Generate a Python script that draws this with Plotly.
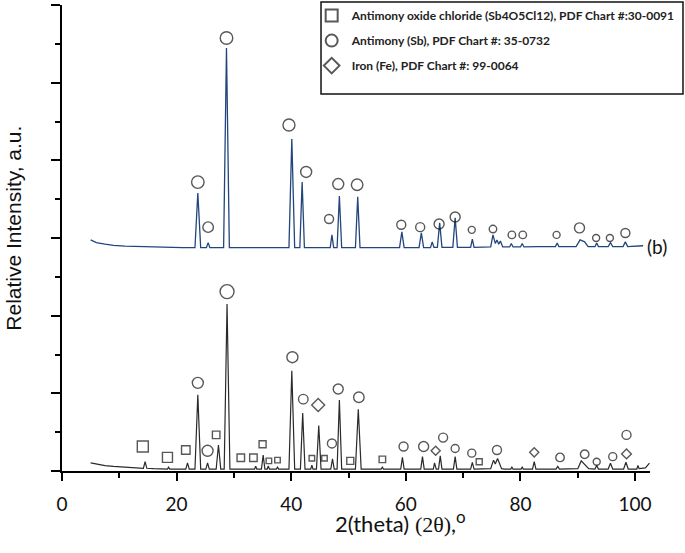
import plotly.graph_objects as go

# ---------------- data ----------------
# Sample (b): blue pattern, polyline vertices (2theta, relative intensity)
b_x = [5.0, 6.0, 7.5, 9, 11, 13, 15, 17, 19, 21, 23.2, 23.7, 24.2, 25.2, 25.5, 25.8,
       28.2, 28.7, 29.2, 32, 35, 38, 39.6, 40.1, 40.6, 41.5, 41.9, 42.3, 44, 46.8,
       47.1, 47.4, 48.0, 48.4, 48.8, 50, 51.2, 51.6, 52.0, 54, 56, 58.9, 59.3, 59.7,
       62.3, 62.7, 63.1, 64.3, 64.6, 64.9, 65.5, 65.9, 66.3, 68.2, 68.6, 69.0, 71.3,
       71.6, 71.9, 74.8, 75.2, 75.6, 75.9, 76.2, 76.5, 76.9, 78.1, 78.4, 78.7, 80.0,
       80.3, 80.6, 83, 86.1, 86.4, 86.7, 89.7, 90.4, 91.2, 91.8, 93.0, 93.3, 93.6,
       95.3, 95.7, 96.1, 97.9, 98.3, 98.7, 100, 101.4]
b_y = [5.95, 5.88, 5.84, 5.81, 5.79, 5.78, 5.77, 5.76, 5.75, 5.75, 5.75, 7.16, 5.75, 5.75, 5.88, 5.75,
       5.75, 10.89, 5.75, 5.75, 5.75, 5.75, 5.75, 8.55, 5.75, 5.75, 7.44, 5.75, 5.75, 5.75,
       6.08, 5.75, 5.75, 7.08, 5.75, 5.75, 5.75, 7.06, 5.75, 5.75, 5.75, 5.75, 6.16, 5.75,
       5.75, 6.13, 5.75, 5.75, 5.90, 5.76, 5.76, 6.39, 5.76, 5.76, 6.52, 5.76, 5.76,
       5.97, 5.76, 5.77, 6.08, 5.86, 5.95, 5.84, 5.92, 5.77, 5.77, 5.86, 5.77, 5.77,
       5.86, 5.77, 5.78, 5.78, 5.87, 5.78, 5.78, 5.95, 5.90, 5.78, 5.78, 5.87, 5.78,
       5.78, 5.88, 5.78, 5.78, 5.90, 5.78, 5.79, 5.80]

# Sample (a): black pattern, polyline vertices
a_x = [5.0, 6, 7.5, 9, 11, 13, 14.2, 14.5, 14.8, 16, 18.4, 18.6, 18.8, 21.6, 21.9, 22.2,
       23.2, 23.7, 24.2, 25.1, 25.4, 25.7, 26.9, 27.3, 27.7, 28.3, 28.8, 29.3, 31, 33.6,
       33.8, 34.0, 34.8, 35.1, 35.4, 35.8, 36.0, 36.2, 37.4, 37.6, 37.8, 39.6, 40.1,
       40.6, 41.6, 42.0, 42.4, 43.4, 43.6, 43.8, 44.4, 44.8, 45.2, 46.9, 47.2, 47.5,
       48.0, 48.4, 48.8, 51.2, 51.7, 52.2, 55.7, 55.9, 56.1, 59.1, 59.4, 59.7, 62.6,
       62.9, 63.2, 64.8, 65.0, 65.3, 65.7, 66.0, 66.3, 68.3, 68.6, 68.9, 71.3, 71.6,
       71.9, 74.8, 75.3, 75.6, 76.0, 76.4, 76.7, 77.2, 78.3, 78.5, 78.7, 80.1, 80.3,
       80.5, 82.1, 82.4, 82.7, 86.2, 86.5, 86.8, 90.0, 90.6, 91.3, 91.9, 93.0, 93.3,
       93.6, 95.3, 95.7, 96.1, 98.0, 98.4, 98.8, 100.3, 100.5, 100.7, 101.8, 102.5]
a_y = [0.21, 0.18, 0.14, 0.12, 0.10, 0.08, 0.07, 0.24, 0.07, 0.06, 0.05, 0.10, 0.05, 0.05, 0.21, 0.05,
       0.05, 1.96, 0.05, 0.05, 0.21, 0.05, 0.05, 0.67, 0.05, 0.05, 4.30, 0.05, 0.05, 0.05,
       0.12, 0.05, 0.05, 0.41, 0.05, 0.05, 0.13, 0.05, 0.05, 0.10, 0.05, 0.05, 2.58,
       0.05, 0.05, 1.49, 0.05, 0.05, 0.15, 0.05, 0.05, 1.17, 0.05, 0.05, 0.31, 0.05,
       0.05, 1.83, 0.05, 0.05, 1.59, 0.05, 0.05, 0.10, 0.05, 0.05, 0.35, 0.05, 0.05,
       0.37, 0.05, 0.05, 0.21, 0.05, 0.05, 0.39, 0.05, 0.05, 0.37, 0.05, 0.05, 0.22,
       0.05, 0.06, 0.28, 0.18, 0.32, 0.15, 0.06, 0.05, 0.05, 0.10, 0.05, 0.05, 0.10,
       0.05, 0.05, 0.24, 0.05, 0.05, 0.12, 0.05, 0.06, 0.26, 0.16, 0.06, 0.05, 0.14,
       0.05, 0.05, 0.20, 0.05, 0.05, 0.23, 0.05, 0.05, 0.14, 0.06, 0.08, 0.20]

# Phase markers: sample (a)
a_sq_x = [14.1, 18.4, 21.6, 26.9, 31.2, 33.4, 35.0, 36.1, 37.6, 43.6, 45.8, 50.3, 55.9, 72.8]
a_sq_y = [0.63, 0.35, 0.54, 0.93, 0.34, 0.34, 0.69, 0.26, 0.28, 0.33, 0.33, 0.26, 0.30, 0.24]
a_sq_s = [11, 10, 8.5, 7.5, 7.5, 7.5, 7, 5.5, 5.5, 5.5, 5.5, 7, 6.5, 6]

a_ci_x = [23.7, 25.4, 28.8, 40.2, 42.1, 47.1, 48.2, 51.8, 59.6, 63.1, 66.5, 68.6, 71.5,
          75.9, 86.9, 91.2, 93.3, 96.1, 98.5]
a_ci_y = [2.27, 0.52, 4.62, 2.93, 1.85, 0.71, 2.11, 1.90, 0.63, 0.63, 0.86, 0.58, 0.46,
          0.54, 0.35, 0.43, 0.24, 0.37, 0.93]
a_ci_s = [11, 11, 14, 11, 9.5, 9, 10, 10.5, 9, 10, 9, 8, 8, 9, 8.5, 8.5, 7, 8, 9]

a_di_x = [44.7, 65.2, 82.4, 98.5]
a_di_y = [1.70, 0.52, 0.48, 0.44]
a_di_s = [10, 7, 7, 7.5]

# Phase markers: sample (b)
b_ci_x = [23.7, 25.5, 28.7, 39.6, 42.6, 46.6, 48.2, 51.5, 59.2, 62.5, 65.8, 68.6, 71.5,
          75.2, 78.5, 80.4, 86.3, 90.3, 93.2, 95.6, 98.3]
b_ci_y = [7.44, 6.28, 11.15, 8.91, 7.70, 6.49, 7.39, 7.37, 6.34, 6.28, 6.36, 6.54, 6.21,
          6.23, 6.08, 6.08, 6.08, 6.26, 6.00, 6.00, 6.13]
b_ci_s = [12.5, 10.5, 12.5, 12, 11, 9, 11, 11.5, 9, 9, 10, 10, 7, 7.5, 7.5, 7.5, 7, 10, 7, 7, 9]

legend_names = ["Antimony oxide chloride (Sb4O5Cl12), PDF Chart #:30-0091",
                "Antimony (Sb), PDF Chart #: 35-0732",
                "Iron (Fe), PDF Chart #: 99-0064"]
sample_labels = ["(a)", "(b)"]
x_ticks = [0, 20, 40, 60, 80, 100]

# ---------------- figure ----------------
BLUE = "#22457c"
BLACK = "#2a2a2a"
MK = "#111111"

fig = go.Figure()
fig.add_trace(go.Scatter(x=b_x, y=b_y, mode="lines", line=dict(color=BLUE, width=1.3),
                         showlegend=False, hoverinfo="skip"))
fig.add_trace(go.Scatter(x=a_x, y=a_y, mode="lines", line=dict(color=BLACK, width=1.2),
                         showlegend=False, hoverinfo="skip"))

def mk(x, y, s, sym, name, show, group):
    return go.Scatter(x=x, y=y, mode="markers", name=name, showlegend=show,
                      legendgroup=group, cliponaxis=False,
                      marker=dict(symbol=sym, size=s, color=MK, line=dict(width=1.4, color=MK)))

fig.add_trace(mk(a_sq_x, a_sq_y, a_sq_s, "square-open", legend_names[0], True, "g1"))
fig.add_trace(mk(a_ci_x, a_ci_y, a_ci_s, "circle-open", legend_names[1], True, "g2"))
fig.add_trace(mk(a_di_x, a_di_y, a_di_s, "diamond-open", legend_names[2], True, "g3"))
fig.add_trace(mk(b_ci_x, b_ci_y, b_ci_s, "circle-open", legend_names[1], False, "g2"))

axis_common = dict(showline=True, linecolor="#000", linewidth=2, showgrid=False,
                   zeroline=False, ticks="outside", tickcolor="#000", tickwidth=1.5,
                   automargin=False)

fig.update_layout(
    width=685, height=553,
    margin=dict(l=62, r=35, t=5, b=82, autoexpand=False),
    paper_bgcolor="white", plot_bgcolor="white",
    xaxis=dict(range=[0, 102.6], tickvals=x_ticks, ticklen=8,
               minor=dict(tick0=0, dtick=10, ticklen=5, tickwidth=1.5, ticks="outside", tickcolor="#000"),
               tickfont=dict(family="Lato", size=19, color="#111"),
               ticklabelstandoff=7, **axis_common),
    yaxis=dict(range=[0, 12], tick0=0, dtick=2, ticklen=9, showticklabels=False,
               minor=dict(tick0=0, dtick=1, ticklen=5, tickwidth=1.5, ticks="outside", tickcolor="#000"),
               **axis_common),
    legend=dict(xref="container", yref="container", x=0.455, y=0.998,
                xanchor="left", yanchor="top",
                bgcolor="rgba(0,0,0,0)", borderwidth=0, itemsizing="constant",
                traceorder="grouped", tracegroupgap=6,
                font=dict(family="Lato", size=12, color="#222", weight="bold")),
    shapes=[dict(type="rect", xref="paper", yref="paper", x0=0.4405, x1=1.0561,
                 y0=0.809, y1=1.0064, line=dict(color="#111", width=1.5))],
    annotations=[
        dict(text="Relative Intensity, a.u.", textangle=-90, xref="paper", yref="paper",
             x=-0.0816, y=0.52, xanchor="center", yanchor="middle", showarrow=False,
             font=dict(family="Liberation Sans", size=21, color="#111")),
        dict(text="2(theta) <span style='font-family:Liberation Serif'>(2θ)</span>,"
                  "<sup><span style='font-size:17px'>o</span></sup>",
             xref="paper", yref="paper", x=0.575, y=-0.108, xanchor="center", yanchor="middle",
             showarrow=False, font=dict(family="Lato", size=22, color="#111")),
        dict(text=sample_labels[0], xref="x", yref="y", x=103.4, y=0.03, xanchor="left",
             yanchor="middle", showarrow=False, font=dict(family="Lato", size=19, color="#111")),
        dict(text=sample_labels[1], xref="x", yref="y", x=101.8, y=5.78, xanchor="left",
             yanchor="middle", showarrow=False, font=dict(family="Lato", size=19, color="#111")),
    ],
)

fig.write_html("out.html", config={"displayModeBar": False},
               post_script="document.body.style.margin='0';")
